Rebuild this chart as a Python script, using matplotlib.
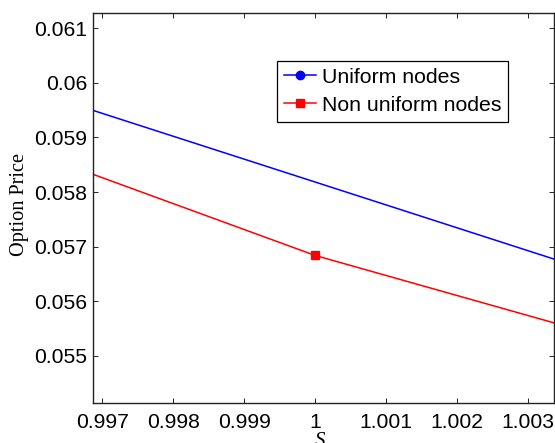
import numpy as np
import matplotlib
matplotlib.use("Agg")
import matplotlib.pyplot as plt

# valori (nodi fuori dalla finestra visibile tranne S=1 per i non uniformi)
s_uniform = [0.995, 1.005]
price_uniform = [0.060274, 0.056092]

s_nonuniform = [0.995, 1.0, 1.005]
price_nonuniform = [0.059208, 0.05684, 0.055010]

xticks = [0.997, 0.998, 0.999, 1.0, 1.001, 1.002, 1.003]
xtick_labels = ["0.997", "0.998", "0.999", "1", "1.001", "1.002", "1.003"]
yticks = [0.055, 0.056, 0.057, 0.058, 0.059, 0.06, 0.061]
ytick_labels = ["0.055", "0.056", "0.057", "0.058", "0.059", "0.06", "0.061"]

W, H = 555, 443
fig = plt.figure(figsize=(W / 100, H / 100), dpi=100)
ax = fig.add_axes([93 / W, 1 - 403 / H, (553.7 - 93) / W, (403 - 13) / H])

ax.plot(s_uniform, price_uniform, color="blue", lw=1.1, marker="o", ms=6,
        label="Uniform nodes")
ax.plot(s_nonuniform, price_nonuniform, color="red", lw=1.1, marker="s", ms=6,
        label="Non uniform nodes")

ax.set_xlim(0.996866, 1.003367)
ax.set_ylim(0.05414, 0.061275)

ax.set_xticks(xticks)
ax.set_xticklabels(xtick_labels)
ax.set_yticks(yticks)
ax.set_yticklabels(ytick_labels)

for lab in ax.get_xticklabels() + ax.get_yticklabels():
    lab.set_fontfamily("Liberation Sans")
    lab.set_fontsize(15.2)

ax.tick_params(direction="in", length=3.5, width=0.6, top=True, right=True,
               colors="black")
ax.tick_params(axis="y", pad=4)
ax.tick_params(axis="x", pad=7)
for sp in ax.spines.values():
    sp.set_linewidth(1.0)
    sp.set_color("#222222")

# etichette assi
fig.text(20 / W, 1 - 205 / H, "Option Price", rotation=90, ha="center", va="center",
         family="Liberation Serif", fontsize=14.6)
fig.text(320 / W, 1 - 431.5 / H, "S", ha="center", va="top", style="italic",
         family="Liberation Serif", fontsize=15)

leg = ax.legend(loc="upper left", bbox_to_anchor=(277.3 / W, 1 - 60.7 / H),
                bbox_transform=fig.transFigure, borderaxespad=0,
                prop={"family": "Liberation Sans", "size": 15.3},
                fancybox=False, framealpha=1, edgecolor="black",
                handlelength=1.5, handletextpad=0.25, labelspacing=0.42,
                borderpad=0.33, numpoints=1)
leg.get_frame().set_linewidth(0.9)

fig.savefig("out.png", dpi=100)
